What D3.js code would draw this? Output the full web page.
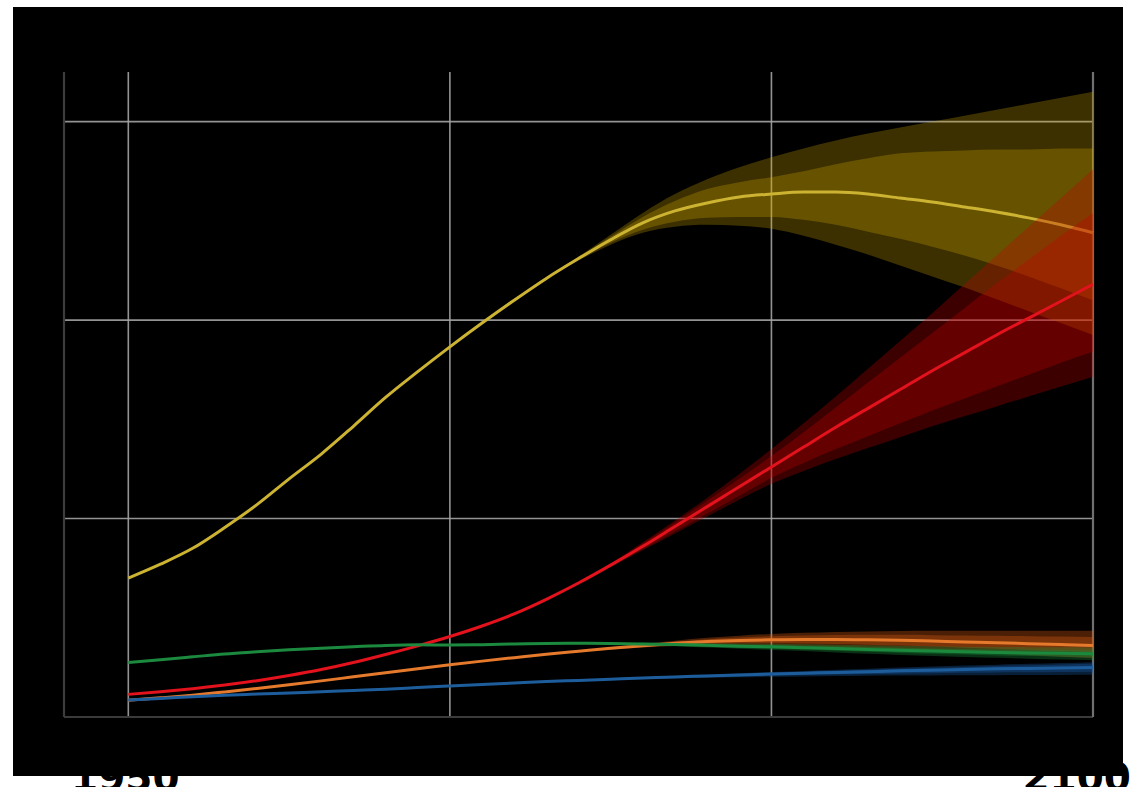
<!DOCTYPE html>
<html>
<head>
<meta charset="utf-8">
<script src="https://cdn.jsdelivr.net/npm/d3@7"></script>
<style>
  html, body { margin: 0; padding: 0; background: #fff; overflow: hidden; }
  svg { display: block; }
</style>
</head>
<body>
<script>
// ---- DATA (population, billions) ----
const years = d3.range(1950, 2101, 5);
const projYears = d3.range(2015, 2101, 5);
const tickYears = [1940, 1950, 2000, 2050, 2100];
const tickValues = [0, 2, 4, 6];
const axisLabels = ["1950", "2100"];

const asia = [1.40,1.54,1.70,1.91,2.14,2.40,2.65,2.93,3.22,3.48,3.73,3.97,4.20,4.42,4.62,4.81,4.98,5.10,5.18,5.24,5.27,5.29,5.29,5.27,5.23,5.19,5.14,5.09,5.03,4.96,4.88];
const africa = [0.228,0.254,0.285,0.322,0.366,0.418,0.478,0.549,0.630,0.717,0.811,0.917,1.039,1.186,1.35,1.53,1.72,1.92,2.12,2.32,2.52,2.72,2.92,3.11,3.30,3.49,3.67,3.85,4.02,4.19,4.36];
const europe = [0.549,0.577,0.606,0.635,0.657,0.677,0.694,0.708,0.721,0.727,0.726,0.729,0.736,0.741,0.743,0.741,0.736,0.730,0.722,0.714,0.707,0.699,0.690,0.681,0.672,0.664,0.657,0.651,0.646,0.642,0.637];
const latam = [0.169,0.193,0.220,0.253,0.288,0.325,0.364,0.405,0.446,0.487,0.526,0.563,0.598,0.632,0.662,0.692,0.718,0.742,0.760,0.772,0.778,0.781,0.781,0.778,0.773,0.765,0.757,0.748,0.739,0.730,0.720];
const namerica = [0.172,0.187,0.204,0.219,0.231,0.243,0.254,0.267,0.280,0.297,0.313,0.328,0.343,0.357,0.369,0.381,0.393,0.404,0.414,0.424,0.433,0.441,0.449,0.457,0.465,0.472,0.479,0.485,0.490,0.495,0.500];

// projection intervals 2015..2100: lower95, lower80, upper80, upper95
const asiaLo95 = [4.42,4.60,4.76,4.88,4.94,4.96,4.95,4.92,4.85,4.76,4.66,4.55,4.44,4.33,4.21,4.09,3.97,3.85];
const asiaLo80 = [4.42,4.61,4.78,4.91,4.99,5.03,5.04,5.04,5.01,4.96,4.89,4.82,4.74,4.65,4.55,4.44,4.32,4.20];
const asiaHi80 = [4.42,4.63,4.84,5.04,5.20,5.32,5.39,5.44,5.50,5.57,5.63,5.68,5.70,5.71,5.72,5.72,5.73,5.73];
const asiaHi95 = [4.42,4.64,4.86,5.08,5.27,5.42,5.54,5.64,5.73,5.81,5.88,5.94,6.00,6.06,6.12,6.18,6.24,6.30];

const africaLo95 = [1.186,1.345,1.51,1.68,1.85,2.02,2.19,2.35,2.48,2.60,2.71,2.82,2.93,3.03,3.13,3.23,3.33,3.43];
const africaLo80 = [1.186,1.348,1.52,1.69,1.87,2.05,2.23,2.41,2.56,2.70,2.83,2.96,3.09,3.21,3.33,3.45,3.57,3.68];
const africaHi80 = [1.186,1.352,1.54,1.75,1.96,2.18,2.40,2.63,2.87,3.12,3.37,3.62,3.87,4.12,4.37,4.61,4.85,5.08];
const africaHi95 = [1.186,1.355,1.55,1.76,1.98,2.21,2.45,2.70,2.96,3.23,3.51,3.79,4.07,4.36,4.65,4.94,5.23,5.52];

const latamLo95 = [0.632,0.655,0.680,0.700,0.715,0.722,0.722,0.718,0.712,0.703,0.692,0.680,0.667,0.653,0.638,0.623,0.608,0.592];
const latamLo80 = [0.632,0.658,0.685,0.708,0.726,0.737,0.742,0.743,0.741,0.736,0.729,0.720,0.710,0.699,0.687,0.675,0.662,0.650];
const latamHi80 = [0.632,0.666,0.699,0.728,0.758,0.783,0.802,0.813,0.821,0.826,0.828,0.828,0.825,0.822,0.818,0.814,0.810,0.806];
const latamHi95 = [0.632,0.669,0.704,0.736,0.769,0.798,0.820,0.836,0.848,0.857,0.862,0.866,0.868,0.869,0.870,0.870,0.870,0.870];

const europeLo95 = [0.741,0.739,0.733,0.724,0.713,0.700,0.688,0.676,0.664,0.651,0.638,0.626,0.615,0.605,0.596,0.588,0.580,0.573];
const europeLo80 = [0.741,0.741,0.736,0.729,0.719,0.709,0.699,0.689,0.679,0.668,0.657,0.646,0.637,0.629,0.621,0.614,0.608,0.602];
const europeHi80 = [0.741,0.745,0.746,0.743,0.739,0.734,0.729,0.725,0.719,0.712,0.705,0.698,0.691,0.685,0.681,0.678,0.676,0.672];
const europeHi95 = [0.741,0.747,0.749,0.748,0.745,0.743,0.740,0.738,0.734,0.729,0.724,0.718,0.713,0.709,0.706,0.704,0.704,0.701];

const naLo95 = [0.357,0.366,0.375,0.383,0.390,0.396,0.401,0.405,0.409,0.412,0.415,0.417,0.419,0.421,0.422,0.423,0.424,0.425];
const naLo80 = [0.357,0.367,0.378,0.388,0.396,0.404,0.411,0.417,0.423,0.428,0.433,0.437,0.441,0.445,0.448,0.451,0.454,0.457];
const naHi80 = [0.357,0.371,0.384,0.397,0.410,0.422,0.433,0.444,0.454,0.465,0.476,0.486,0.496,0.505,0.513,0.521,0.529,0.536];
const naHi95 = [0.357,0.372,0.387,0.401,0.415,0.428,0.441,0.453,0.464,0.475,0.487,0.498,0.508,0.518,0.527,0.536,0.545,0.553];

const seriesNames = ["Asia", "Africa", "Latin America", "Europe", "North America"];
const seriesColors = ["#cdb332", "#e3121c", "#e67a2c", "#1c8a3e", "#1d5d9c"];
const bandColors = ["#d8ad00", "#c80000", "#d85a10", "#1a8a3a", "#1a5aa0"];

// ---- CHART ----
const W = 1140, H = 787;
const svg = d3.select("body").append("svg").attr("width", W).attr("height", H);

const x = d3.scaleLinear().domain([1940, 2100]).range([64, 1093]);
const y = d3.scaleLinear().domain([0, 6.5]).range([717, 72]);

svg.append("rect").attr("x", 13).attr("y", 7).attr("width", 1110).attr("height", 769).attr("fill", "#000");

// tick labels (black, partly hidden against the dark panel, as in the original)
const labelText = svg.append("g")
  .attr("font-family", "DejaVu Sans, sans-serif")
  .attr("font-weight", "bold")
  .attr("font-size", 39)
  .attr("fill", "#000");
labelText.append("text").attr("x", x(1950) - 3).attr("y", 791).attr("text-anchor", "middle").text(axisLabels[0]);
labelText.append("text").attr("x", 1131).attr("y", 791).attr("text-anchor", "end").text(axisLabels[1]);

// gridlines
const grid = svg.append("g");
grid.selectAll("line.h").data(tickValues.filter(v => v > 0)).join("line")
  .attr("x1", x(1940)).attr("x2", x(2100))
  .attr("y1", d => y(d)).attr("y2", d => y(d))
  .attr("stroke", "#a4a4a4").attr("stroke-width", 1.6).attr("opacity", 0.9);
grid.selectAll("line.v").data(tickYears.filter(t => t > 1940 && t < 2100)).join("line")
  .attr("x1", d => x(d)).attr("x2", d => x(d))
  .attr("y1", y(6.5)).attr("y2", y(0))
  .attr("stroke", "#a4a4a4").attr("stroke-width", 1.6).attr("opacity", 0.9);
// frame lines
grid.append("line").attr("x1", x(1940)).attr("x2", x(2100)).attr("y1", y(0)).attr("y2", y(0))
  .attr("stroke", "#3a3a3a").attr("stroke-width", 2.2);
grid.append("line").attr("x1", x(1940)).attr("x2", x(1940)).attr("y1", y(6.5)).attr("y2", y(0))
  .attr("stroke", "#3c3c3c").attr("stroke-width", 2.2);
grid.append("line").attr("x1", x(2100)).attr("x2", x(2100)).attr("y1", y(6.5)).attr("y2", y(0))
  .attr("stroke", "#707070").attr("stroke-width", 2.2);

const medians = [asia, africa, latam, europe, namerica];
const bands = [
  [asiaLo95, asiaLo80, asiaHi80, asiaHi95],
  [africaLo95, africaLo80, africaHi80, africaHi95],
  [latamLo95, latamLo80, latamHi80, latamHi95],
  [europeLo95, europeLo80, europeHi80, europeHi95],
  [naLo95, naLo80, naHi80, naHi95]
];
const bandOpacity = [0.28, 0.30, 0.35, 0.35, 0.35];

const area = d3.area().x(d => x(d[0])).y0(d => y(d[1])).y1(d => y(d[2])).curve(d3.curveMonotoneX);
const line = d3.line().x(d => x(d[0])).y(d => y(d[1])).curve(d3.curveMonotoneX);

seriesNames.forEach((name, i) => {
  const g = svg.append("g").attr("class", "series").attr("data-name", name);
  const [lo95, lo80, hi80, hi95] = bands[i];
  g.append("path")
    .attr("d", area(projYears.map((yr, k) => [yr, lo95[k], hi95[k]])))
    .attr("fill", bandColors[i]).attr("opacity", bandOpacity[i]);
  g.append("path")
    .attr("d", area(projYears.map((yr, k) => [yr, lo80[k], hi80[k]])))
    .attr("fill", bandColors[i]).attr("opacity", bandOpacity[i]);
  g.append("path")
    .attr("d", line(years.map((yr, k) => [yr, medians[i][k]])))
    .attr("fill", "none").attr("stroke", seriesColors[i]).attr("stroke-width", 3);
});
</script>
</body>
</html>
